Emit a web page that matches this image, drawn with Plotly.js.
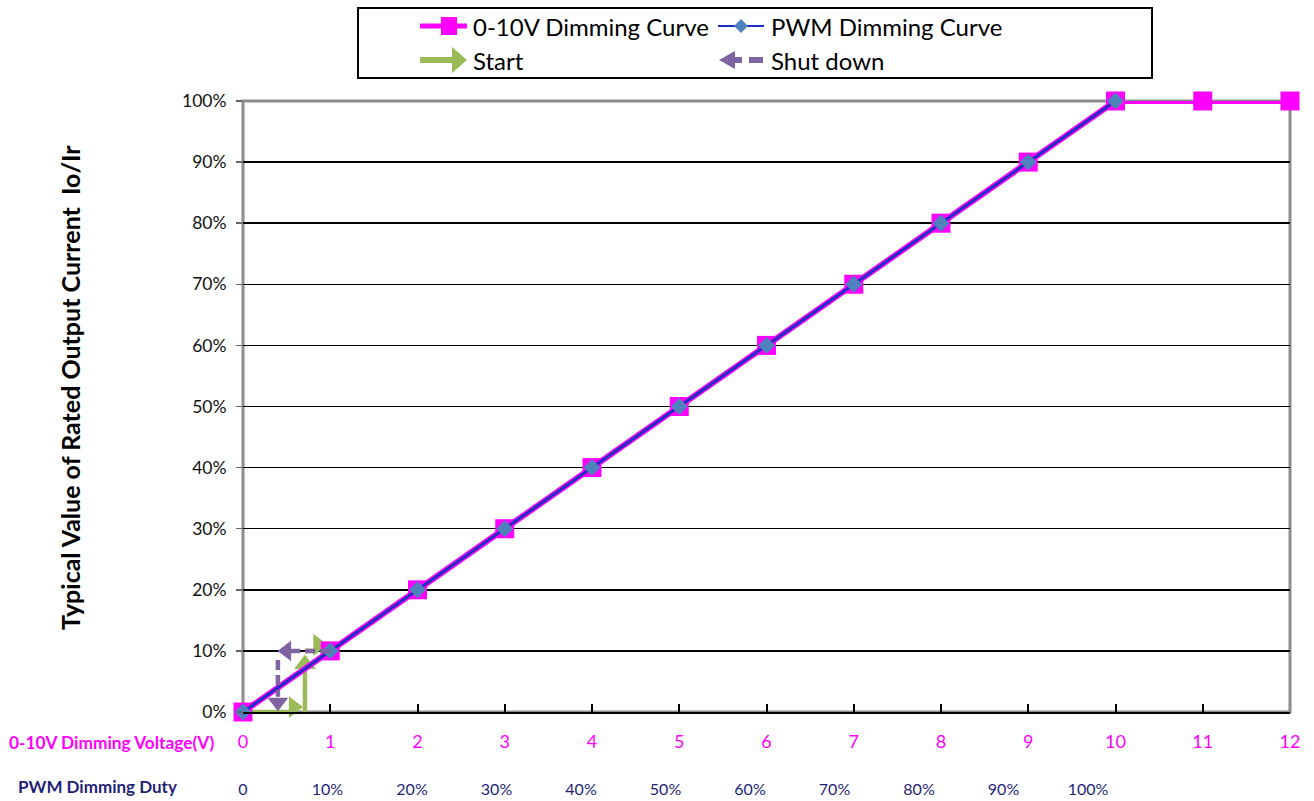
<!DOCTYPE html>
<html>
<head>
<meta charset="utf-8">
<script src="https://cdn.plot.ly/plotly-3.0.1.min.js"></script>
<style>html,body{margin:0;padding:0;background:#fff;}#chart{width:1314px;height:801px;}</style>
</head>
<body>
<div id="chart"></div>
<script>
// ---- data ----
const voltX = [0,1,2,3,4,5,6,7,8,9,10,11,12];
const voltY = [0,0.1,0.2,0.3,0.4,0.5,0.6,0.7,0.8,0.9,1.0,1.0,1.0];
const pwmX  = [0,1,2,3,4,5,6,7,8,9,10];
const pwmY  = [0,0.1,0.2,0.3,0.4,0.5,0.6,0.7,0.8,0.9,1.0];
const voltTicks = ['0','1','2','3','4','5','6','7','8','9','10','11','12'];
const dutyTickVals = [0,1,2,3,4,5,6,7,8,9,10];
const dutyTicks = ['0','10%','20%','30%','40%','50%','60%','70%','80%','90%','100%'];
// start arrow path (V, Io/Ir) and heads
const startX = [0, 0.62, null, 0.71, 0.71, null, 0.71, 0.86];
const startY = [0, 0, null, 0, 0.085, null, 0.1, 0.1];
const startHeadX = [0.58, 0.71, 0.86];
const startHeadY = [0.008, 0.078, 0.11];
const startHeadSym = ['triangle-right','triangle-up','triangle-right'];
// shut down arrow path and heads
const shutX = [1.0, 0.5, null, 0.40, 0.40];
const shutY = [0.1, 0.1, null, 0.085, 0.025];
const shutHeadX = [0.50, 0.40];
const shutHeadY = [0.1, 0.016];
const shutHeadSym = ['triangle-left','triangle-down'];

const FONT = 'Lato, "Open Sans", sans-serif';
const MAG = '#ff00ff', BLUE = '#1f2fc0', DIA = '#4f81bd', GREEN = '#9bbb59', PURPLE = '#8064a2', NAVY = '#1f1f78';

// pixel -> paper helpers (plot area 243..1290 x 101..712)
const L = 243, R = 1290, T = 101, B = 712;
const px = v => (v - L) / (R - L);
const py = v => (B - v) / (B - T);

const traces = [
  {x: startX, y: startY, mode: 'lines', line: {color: GREEN, width: 4.5}, cliponaxis: false, showlegend: false, hoverinfo: 'skip'},
  {x: startHeadX, y: startHeadY, mode: 'markers', marker: {symbol: startHeadSym, size: 19, color: GREEN}, cliponaxis: false, showlegend: false, hoverinfo: 'skip'},
  {x: voltX, y: voltY, mode: 'lines+markers', name: '0-10V Dimming Curve',
   line: {color: MAG, width: 6}, marker: {symbol: 'square', size: 19, color: MAG}, cliponaxis: false, showlegend: false},
  {x: pwmX, y: pwmY, mode: 'lines+markers', name: 'PWM Dimming Curve',
   line: {color: BLUE, width: 3}, marker: {symbol: 'diamond', size: 13, color: DIA}, cliponaxis: false, showlegend: false},
  {x: shutX, y: shutY, mode: 'lines', line: {color: PURPLE, width: 4.5, dash: '10px,5px'}, cliponaxis: false, showlegend: false, hoverinfo: 'skip'},
  {x: shutHeadX, y: shutHeadY, mode: 'markers', marker: {symbol: shutHeadSym, size: 18, color: PURPLE}, cliponaxis: false, showlegend: false, hoverinfo: 'skip'},
  {x: [0], y: [0], xaxis: 'x2', mode: 'markers', marker: {opacity: 0}, showlegend: false, hoverinfo: 'skip'}
];

// legend drawn as shapes + annotations
const shapes = [
  {type: 'rect', xref: 'paper', yref: 'paper', x0: 0, x1: 1, y0: 0, y1: 1, line: {color: '#8c8c8c', width: 3}, layer: 'between'},
  {type: 'rect', xref: 'paper', yref: 'paper', x0: px(358), x1: px(1152), y0: py(8), y1: py(78), line: {color: '#000', width: 2}, fillcolor: '#fff'},
  // legend row 1
  {type: 'line', xref: 'paper', yref: 'paper', x0: px(420), x1: px(467), y0: py(26), y1: py(26), line: {color: MAG, width: 5}},
  {type: 'rect', xref: 'paper', yref: 'paper', x0: px(441), x1: px(457), y0: py(17), y1: py(35), fillcolor: MAG, line: {width: 0}},
  {type: 'line', xref: 'paper', yref: 'paper', x0: px(718), x1: px(764), y0: py(26), y1: py(26), line: {color: BLUE, width: 2}},
  {type: 'path', xref: 'paper', yref: 'paper', path: `M ${px(741)} ${py(19)} L ${px(748)} ${py(26)} L ${px(741)} ${py(33)} L ${px(734)} ${py(26)} Z`, fillcolor: DIA, line: {width: 0}},
  // legend row 2
  {type: 'line', xref: 'paper', yref: 'paper', x0: px(420), x1: px(453), y0: py(60), y1: py(60), line: {color: GREEN, width: 6}},
  {type: 'path', xref: 'paper', yref: 'paper', path: `M ${px(452)} ${py(47)} L ${px(467)} ${py(60)} L ${px(452)} ${py(73)} Z`, fillcolor: GREEN, line: {width: 0}},
  {type: 'path', xref: 'paper', yref: 'paper', path: `M ${px(735)} ${py(51)} L ${px(719)} ${py(60)} L ${px(735)} ${py(69)} Z`, fillcolor: PURPLE, line: {width: 0}},
  {type: 'line', xref: 'paper', yref: 'paper', x0: px(734), x1: px(742), y0: py(60), y1: py(60), line: {color: PURPLE, width: 6}},
  {type: 'line', xref: 'paper', yref: 'paper', x0: px(749), x1: px(763), y0: py(60), y1: py(60), line: {color: PURPLE, width: 6}}
];

const annFont = {family: FONT, size: 24, color: '#000'};
const annotations = [
  {xref: 'paper', yref: 'paper', x: px(471), y: py(26), xanchor: 'left', yanchor: 'middle', text: '0-10V Dimming Curve', showarrow: false, font: annFont},
  {xref: 'paper', yref: 'paper', x: px(769), y: py(26), xanchor: 'left', yanchor: 'middle', text: 'PWM Dimming Curve', showarrow: false, font: annFont},
  {xref: 'paper', yref: 'paper', x: px(471), y: py(60), xanchor: 'left', yanchor: 'middle', text: 'Start', showarrow: false, font: annFont},
  {xref: 'paper', yref: 'paper', x: px(769), y: py(60), xanchor: 'left', yanchor: 'middle', text: 'Shut down', showarrow: false, font: annFont},
  {xref: 'paper', yref: 'paper', x: px(70), y: py(388), xanchor: 'center', yanchor: 'middle', textangle: -90,
   text: '<b>Typical Value of Rated Output Current  Io/Ir</b>', showarrow: false, font: {family: FONT, size: 25, color: '#000'}},
  {xref: 'paper', yref: 'paper', x: px(7), y: py(742), xanchor: 'left', yanchor: 'middle',
   text: '<b>0-10V Dimming Voltage(V)</b>', showarrow: false, font: {family: FONT, size: 17.3, color: MAG}},
  {xref: 'paper', yref: 'paper', x: px(16), y: py(786), xanchor: 'left', yanchor: 'middle',
   text: '<b>PWM Dimming Duty</b>', showarrow: false, font: {family: FONT, size: 17, color: NAVY}}
];

const layout = {
  width: 1314, height: 801,
  margin: {l: L, r: 1314 - R, t: T, b: 801 - B, pad: 0},
  paper_bgcolor: '#fff', plot_bgcolor: '#fff',
  font: {family: FONT},
  showlegend: false,
  xaxis: {range: [0, 12], tickvals: voltX, ticktext: voltTicks, showgrid: false, zeroline: false,
          showline: true, linecolor: '#000', linewidth: 2, ticks: 'inside', ticklen: 8, tickwidth: 2, tickcolor: '#000',
          tickfont: {family: FONT, size: 18, color: MAG}, ticklabelstandoff: 12, fixedrange: true},
  xaxis2: {overlaying: 'x', side: 'bottom', anchor: 'y', range: [0, 12.39], tickvals: dutyTickVals, ticktext: dutyTicks,
           showgrid: false, zeroline: false, showline: false, ticks: '', tickfont: {family: FONT, size: 16, color: NAVY},
           ticklabelstandoff: 66, fixedrange: true},
  yaxis: {range: [0, 1], dtick: 0.1, tickformat: '.0%', showgrid: true, gridcolor: '#000', gridwidth: 1.5,
          zeroline: false, showline: false, ticks: 'outside', ticklen: 6, tickwidth: 1.5, tickcolor: '#666',
          tickfont: {family: FONT, size: 17.5, color: '#111'}, ticklabelstandoff: 6, fixedrange: true},
  shapes: shapes,
  annotations: annotations
};

Plotly.newPlot('chart', traces, layout, {displayModeBar: false, staticPlot: true});
</script>
</body>
</html>
